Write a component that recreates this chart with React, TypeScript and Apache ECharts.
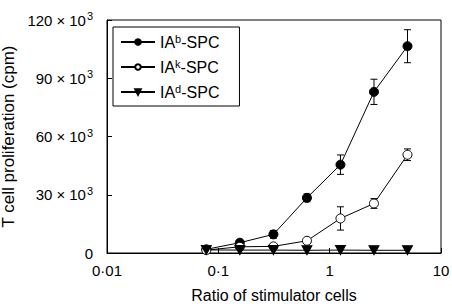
import React, { useEffect, useRef } from "react";
import * as echarts from "echarts";

const ratios = [0.078, 0.156, 0.3125, 0.625, 1.25, 2.5, 5];
const iabValues = [1.9, 5.3, 9.6, 28.4, 45.5, 83, 106.5];
const iabErrors = [0.6, 1.2, 2, 2, 5, 6.5, 8.5];
const iakValues = [1.5, 3.2, 3.4, 6.3, 17.8, 25.5, 50.6];
const iakErrors = [0.4, 0.8, 0.8, 1, 6, 2.5, 3];
const iadValues = [1.6, 1.5, 1.5, 1.4, 1.5, 1.4, 1.4];
const xTickLabels: Record<string, string> = { "0.01": "0·01", "0.1": "0·1", "1": "1", "10": "10" };
const yTickLabels = [0, 30, 60, 90, 120];

const seriesNames = ["IAb-SPC", "IAk-SPC", "IAd-SPC"];
const supers = ["b", "k", "d"];

export default function App() {
  const ref = useRef<HTMLDivElement>(null);
  useEffect(() => {
    if (!ref.current) return;
    const chart = echarts.init(ref.current, null, { renderer: "svg" });
    const font = "Liberation Sans, Arial, sans-serif";
    const pts = (vals: number[]) => ratios.map((r, i) => [r, vals[i] * 1000]);
    const errData = (vals: number[], errs: number[]) =>
      ratios.map((r, i) => [r, (vals[i] - errs[i]) * 1000, (vals[i] + errs[i]) * 1000]);
    const errSeries = (name: string, vals: number[], errs: number[]) => ({
      type: "custom",
      name: name + "_err",
      data: errData(vals, errs),
      z: 1,
      silent: true,
      renderItem: (params: any, api: any) => {
        const x = api.value(0);
        const lo = api.coord([x, api.value(1)]);
        const hi = api.coord([x, api.value(2)]);
        const w = 3.5;
        const style = { stroke: "#000", lineWidth: 1 };
        return {
          type: "group",
          children: [
            { type: "line", shape: { x1: lo[0], y1: lo[1], x2: hi[0], y2: hi[1] }, style },
            { type: "line", shape: { x1: lo[0] - w, y1: lo[1], x2: lo[0] + w, y2: lo[1] }, style },
            { type: "line", shape: { x1: hi[0] - w, y1: hi[1], x2: hi[0] + w, y2: hi[1] }, style },
          ],
        };
      },
    });
    const yLabel = (v: number) => {
      const k = Math.round(v / 1000);
      if (k === 0) return "{a|0}";
      return `{a|${k}}{x|×}{a|10}{s|3}`;
    };
    chart.setOption({
      animation: false,
      grid: {
        left: 107, top: 20, right: 11, bottom: 51,
        containLabel: false, outerBoundsMode: "none",
        show: true, borderColor: "#000", borderWidth: 1,
      },
      legend: {
        left: 113, top: 27, orient: "vertical",
        borderColor: "#000", borderWidth: 1,
        padding: [6, 20, 6, 7],
        itemGap: 8,
        itemWidth: 34, itemHeight: 7,
        data: seriesNames,
        formatter: (name: string) => {
          const i = seriesNames.indexOf(name);
          return `{b|IA}{s|${supers[i]}}{b|-SPC}`;
        },
        textStyle: {
          color: "#000", fontFamily: font, fontSize: 16,
          rich: {
            b: { fontSize: 16, fontFamily: font, color: "#000" },
            s: { fontSize: 11, fontFamily: font, color: "#000", padding: [0, 0, 7, 0] },
          },
        },
      },
      xAxis: {
        type: "log", logBase: 10, min: 0.01, max: 10,
        name: "Ratio of stimulator cells",
        nameLocation: "middle", nameGap: 34,
        nameTextStyle: { fontFamily: font, fontSize: 16, color: "#000" },
        axisLine: { lineStyle: { color: "#000" } },
        axisTick: { inside: true, length: 5, lineStyle: { color: "#000" } },
        minorTick: { show: false },
        splitLine: { show: false },
        axisLabel: {
          fontFamily: font, fontSize: 15, color: "#000", margin: 10,
          formatter: (v: number) => {
            const key = String(Number(v.toPrecision(3)));
            return xTickLabels[key] ?? key;
          },
        },
      },
      yAxis: {
        type: "value", min: 0, max: 120000, interval: 30000,
        name: "T cell proliferation (cpm)",
        nameLocation: "middle", nameGap: 79,
        nameTextStyle: { fontFamily: font, fontSize: 17, color: "#000" },
        axisLine: { show: true, lineStyle: { color: "#000" } },
        axisTick: { inside: true, length: 5, lineStyle: { color: "#000" } },
        splitLine: { show: false },
        axisLabel: {
          margin: 14, fontSize: 15, fontFamily: font, color: "#000",
          formatter: (v: number) => (yTickLabels.includes(Math.round(v / 1000)) ? yLabel(v) : ""),
          rich: {
            a: { fontSize: 15, fontFamily: font, color: "#000" },
            x: { fontSize: 15, fontFamily: font, color: "#000", padding: [0, 4, 0, 4] },
            s: { fontSize: 11, fontFamily: font, color: "#000", padding: [0, 0, 8, 1] },
          },
        },
      },
      series: [
        errSeries("b", iabValues, iabErrors),
        errSeries("k", iakValues, iakErrors),
        {
          type: "line", name: seriesNames[0], data: pts(iabValues),
          symbol: "circle", symbolSize: 9,
          lineStyle: { color: "#000", width: 1 },
          itemStyle: { color: "#000", borderColor: "#000", borderWidth: 1 },
          z: 3,
        },
        {
          type: "line", name: seriesNames[1], data: pts(iakValues),
          symbol: "circle", symbolSize: 9,
          lineStyle: { color: "#000", width: 1 },
          itemStyle: { color: "#fff", borderColor: "#000", borderWidth: 1 },
          z: 3,
        },
        {
          type: "line", name: seriesNames[2], data: pts(iadValues),
          symbol: "path://M0,0 L10,0 L5,9 Z", symbolSize: [10, 9],
          lineStyle: { color: "#000", width: 1 },
          itemStyle: { color: "#000", borderColor: "#000", borderWidth: 1 },
          z: 3,
        },
      ],
    });
    return () => chart.dispose();
  }, []);
  return <div ref={ref} style={{ width: 452, height: 304, position: "absolute", left: 0, top: 0, background: "#fff" }} />;
}
